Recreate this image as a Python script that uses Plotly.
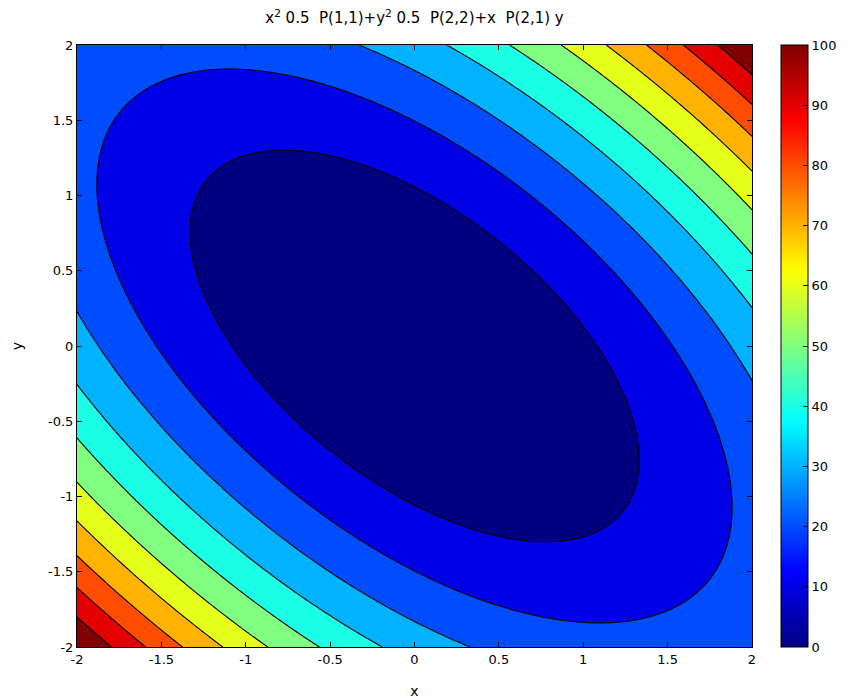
import numpy as np
import plotly.graph_objects as go

# Quadratic-form parameters
P11 = 17.1
P22 = 17.9
P21 = 10.2

x_vals = np.linspace(-2, 2, 401)
y_vals = np.linspace(-2, 2, 401)

level_start = 0
level_end = 100
level_step = 10

x_ticks = [-2, -1.5, -1, -0.5, 0, 0.5, 1, 1.5, 2]
y_ticks = [-2, -1.5, -1, -0.5, 0, 0.5, 1, 1.5, 2]
cbar_ticks = [0, 10, 20, 30, 40, 50, 60, 70, 80, 90, 100]

X, Y = np.meshgrid(x_vals, y_vals)
Z = X**2 * 0.5 * P11 + Y**2 * 0.5 * P22 + X * P21 * Y

# MATLAB jet
jet_pts = [(0.0, (0, 0, 0.5)), (0.125, (0, 0, 1)), (0.375, (0, 1, 1)),
           (0.625, (1, 1, 0)), (0.875, (1, 0, 0)), (1.0, (0.5, 0, 0))]


def jet(t):
    t = min(max(t, 0.0), 1.0)
    for (t0, c0), (t1, c1) in zip(jet_pts[:-1], jet_pts[1:]):
        if t0 <= t <= t1:
            f = (t - t0) / (t1 - t0) if t1 > t0 else 0
            c = [c0[k] + f * (c1[k] - c0[k]) for k in range(3)]
            return "rgb(%d,%d,%d)" % tuple(int(round(255 * v)) for v in c)
    return "rgb(128,0,0)"


jet_scale = [[i / 63, jet(i / 63)] for i in range(64)]

# Stepped colorscale for filled bands: plotly colours band [l, l+s] at l+s/2,
# mapped over [start - s, start + nc*s - s]
nc = int((level_end - level_start) / level_step) + 1
span = nc * level_step
band_scale = []
for i in range(nc):
    lo = 0.0 if i == 0 else (i * level_step + level_step) / span
    hi = 1.0 if i == nc - 1 else ((i + 1) * level_step + level_step) / span
    if i == nc - 2:
        hi = 0.98
    if i == nc - 1:
        lo = 0.98
    col = jet(i / (nc - 1))
    band_scale.append([lo, col])
    band_scale.append([hi, col])

FONT = "DejaVu Sans, Liberation Sans, Arial"

fig = go.Figure()
fig.add_trace(go.Contour(
    x=x_vals, y=y_vals, z=Z,
    contours=dict(start=level_start, end=level_end, size=level_step, coloring="fill"),
    colorscale=band_scale,
    line=dict(color="black", width=1.1),
    showscale=False,
    hoverinfo="skip",
))
fig.add_trace(go.Scatter(
    x=[0], y=[0], mode="markers",
    marker=dict(size=1, opacity=0, color=[0], cmin=0, cmax=100,
                colorscale=jet_scale, showscale=True,
                colorbar=dict(x=1.043, xanchor="left", xpad=0, y=0.5, yanchor="middle",
                              len=1.0, lenmode="fraction", ypad=0, thickness=27,
                              outlinecolor="black", outlinewidth=1,
                              tickvals=cbar_ticks, ticks="inside", ticklen=5,
                              tickcolor="black",
                              tickfont=dict(family=FONT, size=13, color="black"))),
    hoverinfo="skip", showlegend=False,
))

axis_common = dict(showline=True, linecolor="black", linewidth=1, mirror="ticks",
                   ticks="inside", ticklen=5, tickcolor="black", showgrid=False,
                   zeroline=False, automargin=False,
                   tickfont=dict(family=FONT, size=13, color="black"))

fig.update_layout(
    width=852, height=700,
    margin=dict(l=77, r=100, t=45, b=53, autoexpand=False),
    paper_bgcolor="white", plot_bgcolor="white",
    showlegend=False,
    title=dict(text="x<sup>2</sup> 0.5  P(1,1)+y<sup>2</sup> 0.5  P(2,2)+x  P(2,1) y",
               x=0.5, xref="paper", xanchor="center",
               y=1 - 18 / 700, yref="container", yanchor="middle",
               font=dict(family=FONT, size=15, color="black")),
    xaxis=dict(range=[-2, 2], tickvals=x_ticks, ticktext=[str(v) for v in x_ticks],
               title=dict(text="x", standoff=20,
                          font=dict(family=FONT, size=14, color="black")),
               **axis_common),
    yaxis=dict(range=[-2, 2], tickvals=y_ticks, ticktext=[str(v) for v in y_ticks],
               title=dict(text="y", standoff=22,
                          font=dict(family=FONT, size=14, color="black")),
               **axis_common),
)

fig.write_html("out.html")
